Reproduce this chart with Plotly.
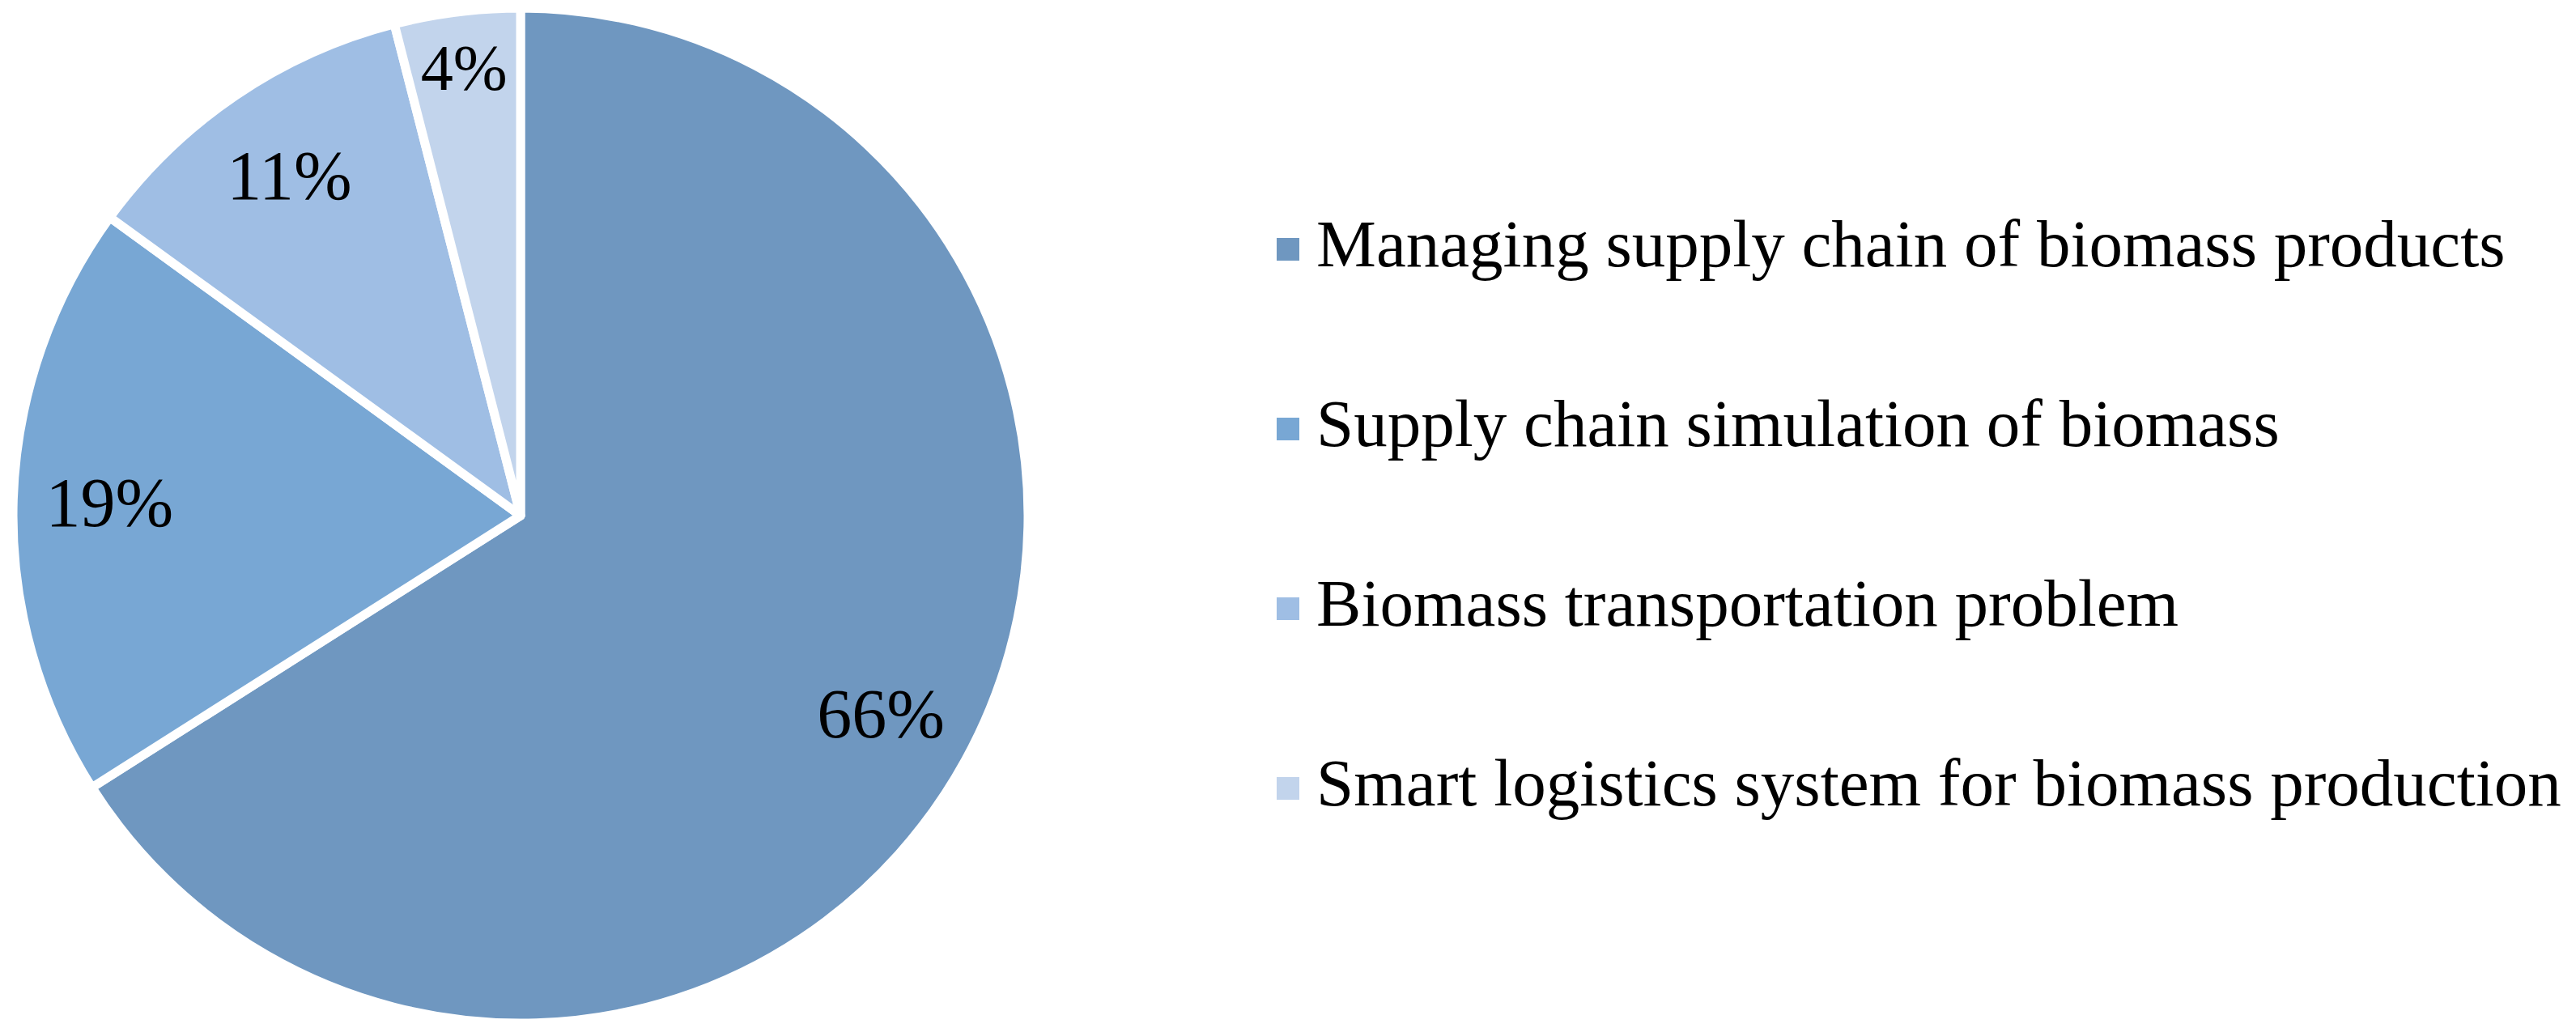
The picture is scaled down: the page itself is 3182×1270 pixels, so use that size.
import plotly.graph_objects as go

# data
labels = [
    "Managing supply chain of biomass products",
    "Supply chain simulation of biomass",
    "Biomass transportation problem",
    "Smart logistics system for biomass production",
]
shares = [66, 19, 11, 4]
slice_colors = ["#6f97c0", "#78a7d4", "#9fbee4", "#c2d4ec"]

W, H = 3182, 1270
font_family = "Liberation Serif, Times New Roman, serif"
pie_domain = dict(x=[8 / W, 1262 / W], y=[14 / H, 1268 / H])

fig = go.Figure()

# filled slices
fig.add_trace(go.Pie(
    labels=labels,
    values=shares,
    sort=False,
    direction="clockwise",
    rotation=0,
    marker=dict(colors=slice_colors, line=dict(color="white", width=11)),
    textinfo="none",
    showlegend=False,
    hoverinfo="label+percent",
    domain=pie_domain,
))

# transparent ring on top, only to push the percent labels toward the rim
fig.add_trace(go.Pie(
    labels=labels,
    values=shares,
    sort=False,
    direction="clockwise",
    rotation=0,
    hole=0.62,
    marker=dict(colors=["rgba(0,0,0,0)"] * len(labels), line=dict(width=0)),
    texttemplate="%{value}%",
    textposition="inside",
    insidetextorientation="horizontal",
    textfont=dict(family=font_family, size=86, color="black"),
    showlegend=False,
    hoverinfo="skip",
    domain=pie_domain,
))

# legend drawn as a column of square markers with text next to them
fig.add_trace(go.Scatter(
    x=[0] * len(labels),
    y=list(range(len(labels))),
    mode="markers+text",
    marker=dict(symbol="square", size=28, color=slice_colors),
    text=["\u2009" + lab for lab in labels],
    textposition="middle right",
    textfont=dict(family=font_family, size=83, color="black"),
    cliponaxis=False,
    showlegend=False,
    hoverinfo="text",
))

fig.update_layout(
    width=W,
    height=H,
    margin=dict(l=0, r=0, t=0, b=0),
    paper_bgcolor="white",
    plot_bgcolor="white",
    xaxis=dict(visible=False, range=[0, 1], domain=[1583 / W, 1.0], fixedrange=True),
    yaxis=dict(visible=False, range=[3.5, -0.5], domain=[1 - 1077 / H, 1 - 189 / H], fixedrange=True),
)

fig.write_html("out.html")
